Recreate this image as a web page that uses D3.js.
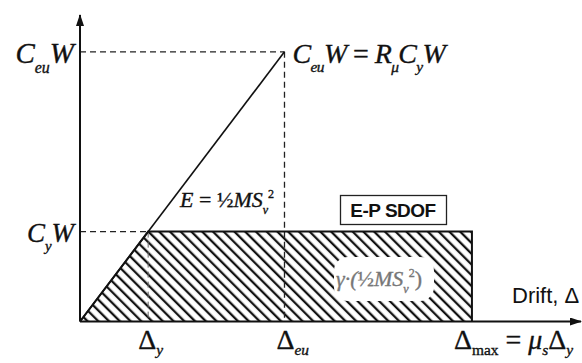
<!DOCTYPE html>
<html>
<head>
<meta charset="utf-8">
<script src="https://cdn.jsdelivr.net/npm/d3@7"></script>
<style>
  body { margin: 0; background: #fff; }
  svg { display: block; }
</style>
</head>
<body>
<div id="chart"></div>
<script>
// values of the idealised E-P SDOF diagram (drift in units of Δy, force in units of CyW)
const driftNames = ['Δy', 'Δeu', 'Δmax'];
const driftValues = [1, 3, 5.75];
const forceNames = ['CyW', 'CeuW'];
const forceValues = [1, 3];
// elastic line up to the peak, and the elastic-perfectly-plastic curve
const elasticCurve = [[0, 0], [3, 3]];
const epCurve = [[0, 0], [1, 1], [5.75, 1], [5.75, 0]];

const width = 582;
const height = 363;
const serif = "'Liberation Serif', 'Times New Roman', serif";
const sans = "'Liberation Sans', Arial, sans-serif";

const x = d3.scaleLinear().domain([0, 7.35]).range([80, 581]);
const y = d3.scaleLinear().domain([0, 3.41]).range([321.5, 15]);

const svg = d3.select('#chart').append('svg')
  .attr('width', width)
  .attr('height', height);

const defs = svg.append('defs');

// hatch pattern, lines going down to the right
const hatch = defs.append('pattern')
  .attr('id', 'hatch')
  .attr('patternUnits', 'userSpaceOnUse')
  .attr('width', 7.6)
  .attr('height', 20)
  .attr('patternTransform', 'rotate(-45)');
hatch.append('line')
  .attr('x1', 2).attr('y1', 0).attr('x2', 2).attr('y2', 20)
  .attr('stroke', '#111').attr('stroke-width', 2.3);

defs.append('marker')
  .attr('id', 'arr')
  .attr('viewBox', '0 0 12 8')
  .attr('refX', 11).attr('refY', 4)
  .attr('markerWidth', 12).attr('markerHeight', 8)
  .attr('markerUnits', 'userSpaceOnUse')
  .attr('orient', 'auto')
  .append('path').attr('d', 'M0,0 L12,4 L0,8 Z').attr('fill', '#111');

const line = d3.line().x(d => x(d[0])).y(d => y(d[1]));

// hatched E-P area
svg.append('path')
  .datum(epCurve.concat([[0, 0]]))
  .attr('d', line)
  .attr('fill', 'url(#hatch)');

// white patch behind the area label
svg.append('rect')
  .attr('x', 334).attr('y', 257)
  .attr('width', 100).attr('height', 44)
  .attr('rx', 14)
  .attr('fill', '#fff');

// dashed guides
const dash = svg.append('g')
  .attr('stroke', '#222')
  .attr('stroke-width', 1.3)
  .attr('stroke-dasharray', '6,4')
  .attr('fill', 'none');
dash.append('line')
  .attr('x1', x(0)).attr('x2', x(driftValues[1]))
  .attr('y1', y(forceValues[1])).attr('y2', y(forceValues[1]));
dash.append('line')
  .attr('x1', x(driftValues[1])).attr('x2', x(driftValues[1]))
  .attr('y1', y(forceValues[1])).attr('y2', y(0));
dash.append('line')
  .attr('x1', x(0)).attr('x2', x(driftValues[0]))
  .attr('y1', y(forceValues[0])).attr('y2', y(forceValues[0]));
dash.append('line')
  .attr('x1', x(driftValues[0])).attr('x2', x(driftValues[0]))
  .attr('y1', y(forceValues[0])).attr('y2', y(0))
  .attr('stroke', '#666').attr('stroke-width', 1);

// curves
svg.append('path')
  .datum(elasticCurve)
  .attr('d', line)
  .attr('fill', 'none')
  .attr('stroke', '#111')
  .attr('stroke-width', 1.6);
svg.append('path')
  .datum(epCurve)
  .attr('d', line)
  .attr('fill', 'none')
  .attr('stroke', '#111')
  .attr('stroke-width', 2);

// axes with arrows
svg.append('line')
  .attr('x1', x(0)).attr('y1', y(0))
  .attr('x2', x(0)).attr('y2', y.range()[1])
  .attr('stroke', '#111').attr('stroke-width', 2)
  .attr('marker-end', 'url(#arr)');
svg.append('line')
  .attr('x1', x(0)).attr('y1', y(0))
  .attr('x2', x.range()[1]).attr('y2', y(0))
  .attr('stroke', '#111').attr('stroke-width', 2)
  .attr('marker-end', 'url(#arr)');

// text helper: parts = [text, 'n' | 's' (sub) | 'p' (sup), italic?]
function label(px, py, parts, size, anchor, fill, subDrop) {
  const t = svg.append('text')
    .attr('x', px).attr('y', py)
    .attr('font-family', serif)
    .attr('font-size', size)
    .attr('text-anchor', anchor || 'start')
    .attr('fill', fill || '#111')
    .attr('stroke', fill || '#111')
    .attr('stroke-width', 0.35);
  let shift = 0;
  parts.forEach(([s, kind, it]) => {
    const target = kind === 's' ? size * (subDrop || 0.34) : kind === 'p' ? -size * 0.42 : 0;
    t.append('tspan')
      .attr('dy', target - shift)
      .attr('font-size', kind === 'n' ? size : size * 0.55)
      .attr('font-style', it ? 'italic' : 'normal')
      .text(s);
    shift = target;
  });
  return t;
}

// force labels
label(74, y(forceValues[1]) + 11, [['C', 'n', 1], ['eu', 's', 1], ['W', 'n', 1]], 29, 'end');
label(74, y(forceValues[0]) + 10, [['C', 'n', 1], ['y', 's', 1], ['W', 'n', 1]], 27, 'end');
label(x(driftValues[1]) + 8, y(forceValues[1]) + 11,
  [['C', 'n', 1], ['eu', 's', 1], ['W', 'n', 1], [' = ', 'n', 0], ['R', 'n', 1], ['μ', 's', 1],
   ['C', 'n', 1], ['y', 's', 1], ['W', 'n', 1]], 28, 'start')
  .attr('letter-spacing', -0.6);

// energy labels
label(180, 207, [['E', 'n', 1], [' = ', 'n', 0], ['½', 'n', 0], ['MS', 'n', 1], ['v', 's', 1], ['2', 'p', 0]], 22, 'start');
label(336, 286, [['γ·(', 'n', 1], ['½', 'n', 0], ['MS', 'n', 1], ['v', 's', 1], ['2', 'p', 0], [')', 'n', 0]], 22, 'start', '#777');

// drift labels under the axis
const driftParts = [
  [['Δ', 'n', 0], ['y', 's', 1]],
  [['Δ', 'n', 0], ['eu', 's', 1]],
  [['Δ', 'n', 0], ['max', 's', 0], [' = ', 'n', 0], ['μ', 'n', 1], ['s', 's', 1], ['Δ', 'n', 0], ['y', 's', 1]]
];
const driftOffset = [-10, -8, -18];
driftNames.forEach((d, i) => {
  label(x(driftValues[i]) + driftOffset[i], 349, driftParts[i], 28, 'start', null, 0.2);
});

// E-P SDOF tag
svg.append('rect')
  .attr('x', 340.5).attr('y', 195.5)
  .attr('width', 106).attr('height', 29)
  .attr('fill', '#fff')
  .attr('stroke', '#222').attr('stroke-width', 1.3);
svg.append('text')
  .attr('x', 393).attr('y', 217)
  .attr('text-anchor', 'middle')
  .attr('font-family', sans)
  .attr('font-weight', 'bold')
  .attr('font-size', 19)
  .attr('letter-spacing', -0.5)
  .attr('fill', '#111')
  .text('E-P SDOF');

// axis title
svg.append('text')
  .attr('x', 512).attr('y', 303)
  .attr('font-family', sans)
  .attr('font-size', 22)
  .attr('fill', '#111')
  .text('Drift, Δ');
</script>
</body>
</html>
